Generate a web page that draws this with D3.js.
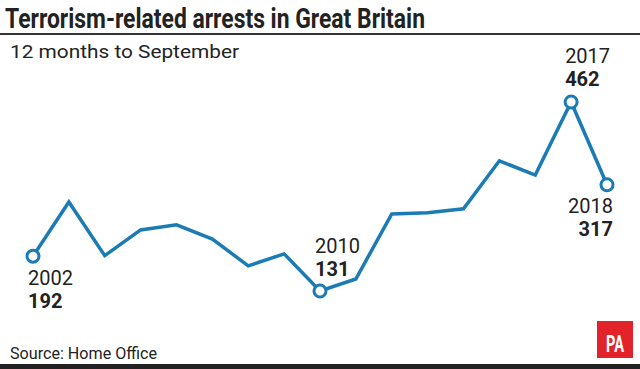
<!DOCTYPE html>
<html>
<head>
<meta charset="utf-8">
<script src="https://cdn.jsdelivr.net/npm/d3@7"></script>
<style>
  html, body { margin: 0; padding: 0; background: #fff; }
  svg { display: block; }
  text { font-family: "Roboto", "Liberation Sans Narrow", sans-serif; fill: #222; }
</style>
</head>
<body>
<div id="chart"></div>
<script>
// Terrorism-related arrests, 12 months to September
const years = [2002, 2003, 2004, 2005, 2006, 2007, 2008, 2009, 2010,
               2011, 2012, 2013, 2014, 2015, 2016, 2017, 2018];
const arrests = [192, 287, 193, 238, 247, 222, 175, 196, 131,
                 152, 266, 268, 275, 359, 334, 462, 317];
// points that get a circle and a label
const labelled = [2002, 2010, 2017, 2018];

const width = 640, height = 369;
const lineColor = '#1b7bb4';

const svg = d3.select('#chart')
    .append('svg')
    .attr('width', width)
    .attr('height', height);

// title + rule
svg.append('text')
    .attr('x', 5)
    .attr('y', 28)
    .style('font-size', '28px')
    .style('font-weight', 'bold')
    .attr('textLength', 420)
    .attr('lengthAdjust', 'spacingAndGlyphs')
    .text('Terrorism-related arrests in Great Britain');

svg.append('rect')
    .attr('x', 0).attr('y', 33)
    .attr('width', width).attr('height', 2)
    .attr('fill', '#333');

svg.append('text')
    .attr('x', 10)
    .attr('y', 58)
    .style('font-size', '19px')
    .attr('textLength', 229)
    .attr('lengthAdjust', 'spacingAndGlyphs')
    .text('12 months to September');

// scales
const x = d3.scaleLinear()
    .domain(d3.extent(years))
    .range([33, 607]);

const y = d3.scaleLinear()
    .domain([131, 462])
    .range([291, 102]);

const data = years.map((yr, i) => ({ year: yr, value: arrests[i] }));

const line = d3.line()
    .x(d => x(d.year))
    .y(d => y(d.value));

svg.append('path')
    .datum(data)
    .attr('fill', 'none')
    .attr('stroke', lineColor)
    .attr('stroke-width', 3.5)
    .attr('stroke-linejoin', 'miter')
    .attr('d', line);

const marked = data.filter(d => labelled.includes(d.year));

svg.selectAll('.marker')
    .data(marked)
    .enter()
    .append('circle')
    .attr('class', 'marker')
    .attr('cx', d => x(d.year))
    .attr('cy', d => y(d.value))
    .attr('r', 6)
    .attr('fill', '#fff')
    .attr('stroke', lineColor)
    .attr('stroke-width', 3);

// label offsets relative to the point: dx, year baseline dy, anchor
const labelPos = {
    2002: { dx: -5, dy: 29, anchor: 'start' },
    2010: { dx: -5, dy: -38, anchor: 'start' },
    2017: { dx: -6, dy: -39, anchor: 'start' },
    2018: { dx: 6, dy: 28, anchor: 'end' }
};

marked.forEach(d => {
    const p = labelPos[d.year];
    const g = svg.append('g')
        .attr('transform', `translate(${x(d.year) + p.dx},${y(d.value) + p.dy})`);
    g.append('text')
        .attr('text-anchor', p.anchor)
        .style('font-size', '20px')
        .text(d.year);
    g.append('text')
        .attr('y', 23)
        .attr('text-anchor', p.anchor)
        .style('font-size', '20px')
        .style('font-weight', 'bold')
        .text(d.value);
});

// footer
svg.append('text')
    .attr('x', 10)
    .attr('y', 359)
    .style('font-size', '16px')
    .attr('textLength', 147)
    .attr('lengthAdjust', 'spacingAndGlyphs')
    .text('Source: Home Office');

svg.append('rect')
    .attr('x', 0).attr('y', 364)
    .attr('width', width).attr('height', 5)
    .attr('fill', '#222');

svg.append('rect')
    .attr('x', 597).attr('y', 321)
    .attr('width', 36).attr('height', 37)
    .attr('fill', '#e2232a');

svg.append('text')
    .attr('x', 615)
    .attr('y', 352)
    .attr('text-anchor', 'middle')
    .style('font-size', '24px')
    .style('font-weight', 'bold')
    .style('fill', '#fff')
    .attr('textLength', 18)
    .attr('lengthAdjust', 'spacingAndGlyphs')
    .text('PA');
</script>
</body>
</html>
